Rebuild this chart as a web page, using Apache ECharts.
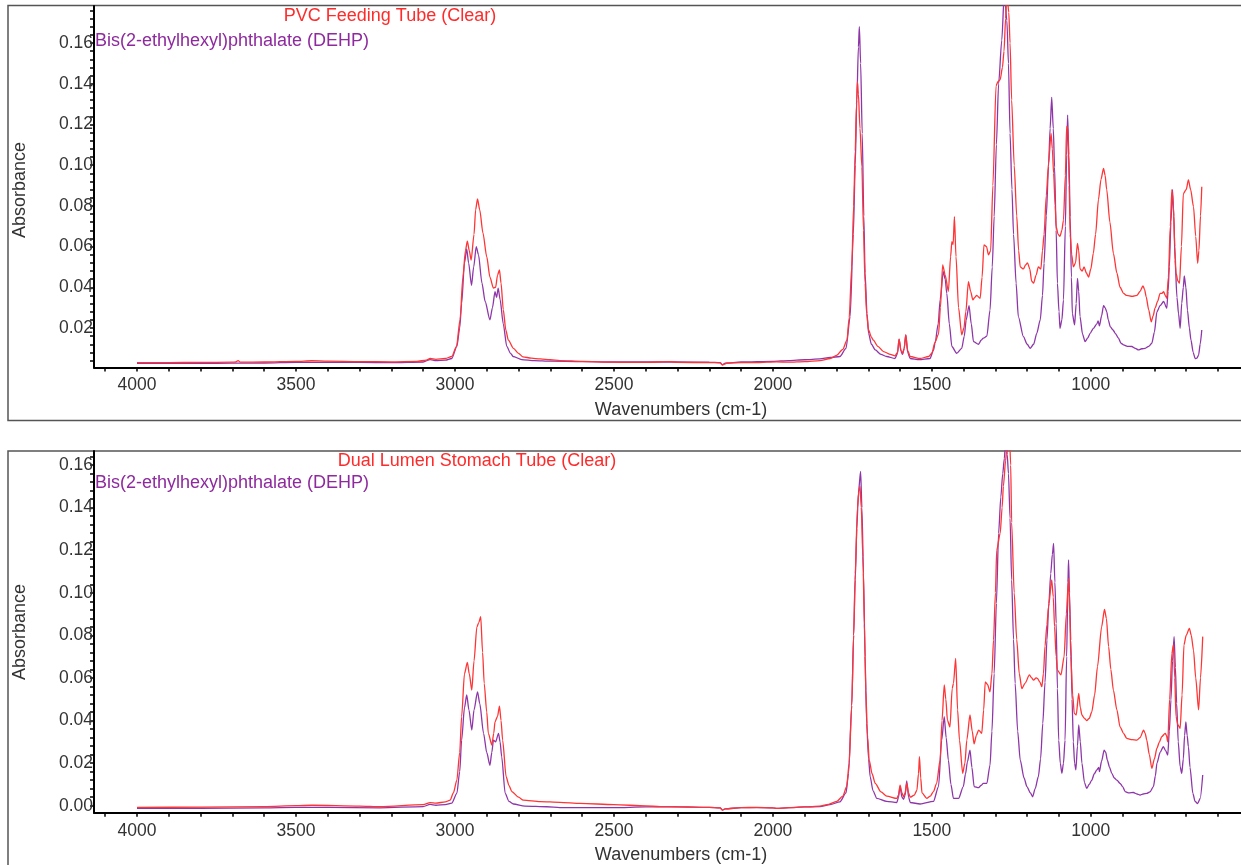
<!DOCTYPE html>
<html>
<head>
<meta charset="utf-8">
<script src="https://cdn.jsdelivr.net/npm/echarts@6/dist/echarts.min.js"></script>
<style>
html,body{margin:0;padding:0;background:#fff;}
#chart{width:1241px;height:865px;}
</style>
</head>
<body>
<div id="chart"></div>
<script>
// ---------------- DATA ----------------
const topSampleName = 'PVC Feeding Tube (Clear)';
const bottomSampleName = 'Dual Lumen Stomach Tube (Clear)';
const referenceName = 'Bis(2-ethylhexyl)phthalate (DEHP)';
const xAxisTitle = 'Wavenumbers (cm-1)';
const yAxisTitle = 'Absorbance';

const xLabelValues = [4000, 3500, 3000, 2500, 2000, 1500, 1000];
const yLabelValuesTop = [0.02, 0.04, 0.06, 0.08, 0.10, 0.12, 0.14, 0.16];
const yLabelValuesBottom = [0.00, 0.02, 0.04, 0.06, 0.08, 0.10, 0.12, 0.14, 0.16];

// [wavenumber, absorbance]
const pvcTube = [
[4000,0.0030],[3900,0.0030],[3800,0.0031],[3700,0.0032],[3690,0.0033],[3682,0.0040],[3675,0.0032],[3600,0.0033],[3500,0.0036],[3450,0.0039],[3400,0.0037],[3300,0.0035],[3200,0.0034],[3120,0.0036],[3090,0.0042],[3078,0.0050],[3060,0.0046],[3030,0.0050],[3010,0.0060],[2995,0.0110],[2984,0.0240],[2975,0.045],[2967,0.058],[2961,0.0627],[2955,0.058],[2949,0.0534],[2940,0.066],[2935,0.078],[2929,0.0834],[2922,0.078],[2912,0.0667],[2900,0.055],[2890,0.045],[2879,0.0396],[2872,0.040],[2866,0.046],[2860,0.0485],[2855,0.042],[2848,0.029],[2840,0.019],[2832,0.014],[2816,0.010],[2800,0.0075],[2786,0.0058],[2760,0.0052],[2732,0.0048],[2700,0.0044],[2670,0.0040],[2600,0.0036],[2500,0.0032],[2460,0.0031],[2400,0.0031],[2323,0.0035],[2300,0.0031],[2200,0.0030],[2166,0.0029],[2159,0.0018],[2150,0.0024],[2145,0.0028],[2100,0.0030],[2050,0.0030],[1988,0.0034],[1950,0.0032],[1900,0.0035],[1852,0.0040],[1820,0.0050],[1800,0.0065],[1780,0.0095],[1767,0.014],[1760,0.025],[1752,0.050],[1746,0.080],[1741,0.107],[1737,0.130],[1734,0.141],[1731,0.135],[1726,0.118],[1720,0.099],[1715,0.068],[1710,0.042],[1705,0.027],[1699,0.019],[1690,0.0155],[1684,0.014],[1670,0.011],[1652,0.0084],[1630,0.0070],[1616,0.0063],[1608,0.0080],[1603,0.0145],[1597,0.0090],[1592,0.0076],[1587,0.0100],[1582,0.0166],[1576,0.0090],[1568,0.0060],[1537,0.0050],[1510,0.0060],[1500,0.0076],[1490,0.0130],[1479,0.0170],[1473,0.030],[1466,0.051],[1458,0.046],[1448,0.038],[1441,0.055],[1437,0.0624],[1433,0.061],[1429,0.0747],[1424,0.055],[1416,0.030],[1406,0.0166],[1399,0.020],[1393,0.028],[1385,0.0428],[1378,0.038],[1371,0.0338],[1365,0.035],[1359,0.036],[1348,0.0346],[1342,0.045],[1336,0.0608],[1328,0.060],[1322,0.0559],[1315,0.058],[1308,0.090],[1298,0.139],[1292,0.141],[1285,0.142],[1278,0.148],[1273,0.156],[1268,0.172],[1264,0.185],[1258,0.175],[1254,0.160],[1249,0.132],[1241,0.100],[1233,0.075],[1227,0.058],[1222,0.050],[1212,0.049],[1205,0.051],[1199,0.052],[1192,0.049],[1186,0.043],[1180,0.042],[1172,0.046],[1165,0.050],[1157,0.049],[1152,0.058],[1147,0.066],[1140,0.085],[1133,0.1009],[1125,0.1156],[1121,0.108],[1117,0.096],[1112,0.080],[1109,0.0698],[1103,0.066],[1097,0.065],[1091,0.068],[1086,0.073],[1080,0.095],[1076,0.119],[1072,0.118],[1068,0.090],[1065,0.066],[1060,0.056],[1055,0.050],[1048,0.052],[1042,0.0616],[1038,0.058],[1034,0.049],[1027,0.048],[1021,0.050],[1014,0.047],[1007,0.045],[1000,0.049],[992,0.0567],[985,0.066],[976,0.083],[968,0.093],[960,0.0984],[955,0.095],[950,0.088],[940,0.072],[929,0.0567],[918,0.047],[908,0.040],[897,0.037],[887,0.036],[870,0.0355],[855,0.036],[845,0.038],[836,0.0407],[831,0.039],[826,0.0354],[818,0.029],[810,0.023],[804,0.026],[798,0.0297],[790,0.033],[782,0.037],[776,0.037],[771,0.0379],[766,0.036],[761,0.0346],[756,0.045],[750,0.070],[745,0.088],[740,0.0796],[736,0.060],[732,0.0469],[726,0.043],[721,0.042],[715,0.060],[709,0.086],[700,0.088],[693,0.0927],[686,0.088],[677,0.0796],[670,0.065],[664,0.0518],[660,0.058],[655,0.075],[651,0.0894]
];

const dehpTop = [
[4000,0.0026],[3800,0.0026],[3700,0.0027],[3600,0.0028],[3500,0.0031],[3400,0.0032],[3300,0.0031],[3200,0.0030],[3100,0.0033],[3078,0.0045],[3060,0.0040],[3030,0.0042],[3010,0.0050],[2994,0.0110],[2985,0.020],[2979,0.032],[2970,0.052],[2963,0.0588],[2957,0.052],[2948,0.041],[2941,0.050],[2933,0.060],[2926,0.056],[2915,0.042],[2905,0.033],[2890,0.024],[2882,0.030],[2874,0.0378],[2869,0.035],[2864,0.0396],[2858,0.034],[2848,0.022],[2837,0.011],[2825,0.0075],[2817,0.0060],[2790,0.0045],[2750,0.0040],[2700,0.0037],[2600,0.0035],[2500,0.0033],[2400,0.0033],[2300,0.0033],[2200,0.0032],[2166,0.0030],[2159,0.0020],[2150,0.0027],[2100,0.0033],[2000,0.0036],[1950,0.0040],[1900,0.0044],[1852,0.0048],[1820,0.0055],[1789,0.0060],[1770,0.010],[1757,0.0256],[1747,0.066],[1741,0.100],[1736,0.132],[1731,0.158],[1728,0.168],[1724,0.150],[1719,0.1156],[1714,0.075],[1710,0.047],[1704,0.027],[1699,0.0174],[1690,0.012],[1678,0.0092],[1660,0.0070],[1642,0.0060],[1616,0.0050],[1608,0.0075],[1603,0.0145],[1597,0.0085],[1592,0.0070],[1587,0.0100],[1582,0.0166],[1576,0.0080],[1568,0.0050],[1540,0.0045],[1506,0.0050],[1495,0.0090],[1490,0.0125],[1480,0.022],[1474,0.0338],[1464,0.0477],[1458,0.044],[1453,0.037],[1445,0.022],[1437,0.0109],[1422,0.0076],[1406,0.010],[1398,0.016],[1392,0.024],[1383,0.031],[1376,0.022],[1369,0.0133],[1353,0.012],[1345,0.014],[1338,0.015],[1327,0.016],[1317,0.0288],[1310,0.050],[1304,0.0747],[1297,0.110],[1290,0.140],[1280,0.1614],[1272,0.185],[1264,0.171],[1259,0.150],[1254,0.1156],[1248,0.088],[1243,0.066],[1235,0.042],[1228,0.0256],[1212,0.0158],[1200,0.0120],[1191,0.010],[1180,0.012],[1170,0.0174],[1159,0.024],[1152,0.036],[1147,0.0518],[1140,0.075],[1133,0.0993],[1128,0.118],[1123,0.1333],[1118,0.118],[1114,0.099],[1109,0.068],[1105,0.042],[1100,0.028],[1097,0.0198],[1091,0.024],[1086,0.0338],[1080,0.070],[1076,0.105],[1073,0.1246],[1069,0.105],[1065,0.0747],[1061,0.045],[1058,0.027],[1051,0.0215],[1046,0.032],[1042,0.0444],[1038,0.038],[1034,0.0256],[1026,0.017],[1018,0.0133],[1010,0.015],[1002,0.0174],[992,0.0198],[981,0.022],[977,0.0235],[973,0.021],[966,0.026],[960,0.031],[955,0.030],[950,0.028],[945,0.024],[939,0.0207],[930,0.019],[923,0.0174],[913,0.015],[905,0.0125],[897,0.0117],[885,0.011],[871,0.0109],[860,0.0100],[850,0.0092],[840,0.0098],[829,0.010],[818,0.0110],[808,0.0125],[800,0.018],[792,0.028],[782,0.031],[771,0.033],[761,0.0297],[757,0.038],[753,0.050],[748,0.072],[743,0.088],[739,0.075],[735,0.0534],[729,0.035],[724,0.027],[719,0.0198],[714,0.0322],[709,0.040],[706,0.0456],[701,0.040],[696,0.0288],[690,0.020],[685,0.0141],[678,0.008],[672,0.0050],[666,0.0052],[661,0.0067],[656,0.012],[651,0.019]
];

const dualLumenTube = [
[4000,-0.0008],[3800,-0.0007],[3600,-0.0004],[3500,0.0000],[3450,0.0002],[3300,-0.0002],[3235,-0.0005],[3100,0.0005],[3078,0.0014],[3060,0.0012],[3030,0.0018],[3015,0.0026],[3005,0.006],[2994,0.012],[2985,0.025],[2979,0.0418],[2970,0.062],[2961,0.0673],[2955,0.062],[2947,0.0543],[2940,0.068],[2931,0.084],[2925,0.086],[2919,0.0888],[2913,0.072],[2908,0.0575],[2900,0.044],[2895,0.034],[2884,0.0285],[2878,0.034],[2874,0.0394],[2866,0.042],[2860,0.0468],[2855,0.040],[2850,0.0308],[2839,0.0136],[2830,0.0095],[2821,0.0066],[2800,0.0040],[2785,0.0026],[2732,0.0019],[2670,0.0016],[2606,0.0011],[2500,0.0005],[2400,-0.0001],[2355,-0.0004],[2300,-0.0005],[2200,-0.0008],[2166,-0.0010],[2159,-0.0021],[2150,-0.0015],[2100,-0.0009],[2050,-0.0008],[2000,-0.0010],[1988,-0.0013],[1950,-0.0009],[1900,-0.0006],[1852,-0.0002],[1830,0.0005],[1799,0.0020],[1780,0.0045],[1768,0.0090],[1760,0.020],[1752,0.047],[1746,0.080],[1741,0.109],[1734,0.140],[1729,0.148],[1726,0.150],[1722,0.140],[1717,0.117],[1712,0.085],[1708,0.0543],[1702,0.032],[1697,0.0214],[1688,0.015],[1678,0.0105],[1660,0.0065],[1642,0.0045],[1610,0.0034],[1605,0.0050],[1600,0.0097],[1594,0.0060],[1589,0.0042],[1584,0.0060],[1579,0.0105],[1573,0.0060],[1568,0.0040],[1555,0.0050],[1547,0.0073],[1542,0.015],[1539,0.023],[1535,0.013],[1531,0.0060],[1516,0.0034],[1505,0.0045],[1495,0.0066],[1485,0.0105],[1474,0.0214],[1468,0.040],[1461,0.0567],[1456,0.050],[1451,0.0402],[1443,0.037],[1436,0.055],[1432,0.0575],[1425,0.0692],[1419,0.045],[1413,0.0308],[1403,0.0152],[1396,0.020],[1390,0.0308],[1380,0.0426],[1373,0.035],[1367,0.029],[1360,0.033],[1353,0.0355],[1343,0.034],[1337,0.045],[1332,0.0582],[1325,0.057],[1317,0.0535],[1311,0.062],[1306,0.0778],[1300,0.100],[1296,0.120],[1285,0.128],[1279,0.140],[1275,0.150],[1268,0.162],[1264,0.169],[1257,0.180],[1252,0.160],[1249,0.133],[1241,0.100],[1233,0.078],[1225,0.062],[1217,0.055],[1207,0.0575],[1193,0.0614],[1186,0.060],[1180,0.059],[1172,0.060],[1168,0.0598],[1160,0.058],[1154,0.0559],[1149,0.062],[1144,0.075],[1138,0.085],[1133,0.0935],[1123,0.106],[1118,0.098],[1114,0.084],[1109,0.070],[1105,0.0637],[1094,0.0614],[1084,0.070],[1077,0.090],[1070,0.1068],[1066,0.090],[1063,0.070],[1057,0.052],[1052,0.0434],[1046,0.0426],[1038,0.0528],[1033,0.046],[1028,0.0426],[1020,0.041],[1013,0.040],[1005,0.041],[997,0.044],[988,0.052],[979,0.0653],[966,0.084],[957,0.0922],[951,0.088],[944,0.0747],[937,0.064],[929,0.0543],[918,0.045],[908,0.037],[897,0.034],[887,0.0316],[870,0.031],[855,0.0308],[845,0.032],[834,0.0355],[829,0.034],[824,0.0308],[816,0.024],[808,0.0175],[800,0.022],[792,0.027],[784,0.030],[777,0.0324],[766,0.034],[762,0.033],[758,0.030],[752,0.050],[745,0.0716],[740,0.0755],[736,0.060],[732,0.0418],[726,0.038],[719,0.0363],[713,0.052],[707,0.0755],[700,0.080],[690,0.0833],[684,0.080],[677,0.0731],[670,0.060],[661,0.045],[655,0.060],[648,0.0794]
];

const dehpBottom = [
[4000,-0.0012],[3800,-0.0012],[3600,-0.0010],[3500,-0.0008],[3400,-0.0008],[3235,-0.0010],[3100,-0.0004],[3078,0.0006],[3060,0.0002],[3030,0.0005],[3010,0.0012],[2994,0.0058],[2985,0.016],[2979,0.0308],[2970,0.046],[2963,0.052],[2956,0.045],[2947,0.0355],[2940,0.045],[2929,0.0535],[2922,0.048],[2910,0.034],[2900,0.025],[2890,0.019],[2884,0.025],[2879,0.0308],[2872,0.030],[2863,0.034],[2858,0.030],[2853,0.023],[2842,0.0058],[2830,0.0020],[2816,0.0008],[2780,-0.0002],[2711,-0.0005],[2670,-0.0009],[2500,-0.0009],[2400,-0.0006],[2300,-0.0006],[2200,-0.0008],[2166,-0.0010],[2159,-0.0021],[2150,-0.0015],[2100,-0.0009],[2000,-0.0010],[1988,-0.0013],[1900,-0.0006],[1852,-0.0004],[1820,0.0005],[1789,0.0018],[1770,0.006],[1762,0.0152],[1752,0.047],[1746,0.080],[1741,0.106],[1736,0.130],[1731,0.147],[1724,0.157],[1720,0.140],[1715,0.109],[1710,0.070],[1705,0.0387],[1699,0.022],[1694,0.0136],[1685,0.007],[1673,0.0034],[1642,0.0020],[1610,0.0015],[1605,0.0040],[1600,0.0090],[1594,0.0040],[1589,0.0030],[1584,0.0050],[1579,0.0117],[1573,0.0040],[1568,0.0015],[1537,0.0008],[1495,0.0020],[1479,0.009],[1469,0.0308],[1461,0.0418],[1455,0.032],[1448,0.0214],[1440,0.010],[1432,0.0034],[1416,0.0034],[1401,0.009],[1394,0.015],[1388,0.0207],[1380,0.0261],[1374,0.018],[1367,0.009],[1353,0.0085],[1345,0.0095],[1338,0.0105],[1327,0.0105],[1317,0.0191],[1311,0.035],[1304,0.062],[1297,0.095],[1290,0.128],[1283,0.145],[1277,0.156],[1272,0.163],[1267,0.175],[1263,0.165],[1259,0.156],[1254,0.135],[1249,0.106],[1243,0.078],[1238,0.0575],[1230,0.035],[1222,0.0214],[1210,0.013],[1201,0.009],[1190,0.006],[1183,0.0042],[1175,0.0080],[1165,0.0136],[1158,0.022],[1151,0.0387],[1144,0.058],[1138,0.0778],[1132,0.095],[1126,0.109],[1121,0.118],[1117,0.1232],[1113,0.105],[1109,0.0857],[1105,0.055],[1101,0.0308],[1096,0.020],[1091,0.0152],[1086,0.020],[1081,0.0308],[1076,0.070],[1072,0.105],[1070,0.1154],[1067,0.100],[1063,0.0778],[1059,0.050],[1055,0.030],[1051,0.020],[1047,0.0168],[1042,0.028],[1038,0.0379],[1033,0.030],[1028,0.020],[1020,0.011],[1013,0.0081],[1005,0.010],[997,0.012],[989,0.015],[981,0.0168],[975,0.018],[973,0.016],[966,0.021],[958,0.0261],[953,0.025],[948,0.0214],[941,0.018],[934,0.0152],[926,0.013],[918,0.012],[908,0.0105],[900,0.009],[892,0.0066],[880,0.006],[866,0.0062],[855,0.0055],[845,0.0050],[835,0.0055],[824,0.0058],[814,0.0065],[803,0.009],[797,0.014],[792,0.020],[782,0.025],[772,0.0277],[765,0.026],[758,0.0238],[753,0.035],[748,0.0496],[743,0.068],[738,0.0794],[734,0.065],[730,0.048],[725,0.030],[719,0.0183],[714,0.0152],[709,0.022],[705,0.033],[701,0.0394],[697,0.033],[693,0.0277],[688,0.018],[679,0.0058],[672,0.002],[664,0.0010],[656,0.0034],[648,0.0144]
];

// ---------------- CHART ----------------
const RED = '#ff3535';
const PURPLE = '#8e36a8';
const FONT = 'Liberation Sans, Arial, sans-serif';

const xTicks = [];
for (let w = 4100; w >= 600; w -= 100) xTicks.push(w);
const yTicksTop = [];
for (let k = 1; k <= 44; k++) yTicksTop.push(+(k * 0.004).toFixed(3));
const yTicksBottom = [];
for (let k = 0; k <= 41; k++) yTicksBottom.push(+(k * 0.004).toFixed(3));

function makeX(gridIndex) {
  return {
    type: 'value', gridIndex: gridIndex, inverse: true,
    min: 527.6, max: 4135.3,
    splitLine: {show: false},
    axisLine: {show: true, onZero: false, lineStyle: {color: '#000', width: 2}},
    axisTick: {show: true, inside: false, length: 4, lineStyle: {color: '#000', width: 1.5}, customValues: xTicks},
    axisLabel: {customValues: xLabelValues, margin: 9, color: '#333', fontSize: 17.5, fontFamily: FONT,
      formatter: v => String(Math.round(v))}
  };
}
function makeY(gridIndex, min, max, labels, ticks) {
  return {
    type: 'value', gridIndex: gridIndex, min: min, max: max,
    splitLine: {show: false},
    axisLine: {show: true, onZero: false, lineStyle: {color: '#000', width: 2}},
    axisTick: {show: true, inside: false, length: 4, lineStyle: {color: '#000', width: 1.5}, customValues: ticks},
    axisLabel: {customValues: labels, margin: 1, color: '#333', fontSize: 17.5, fontFamily: FONT,
      formatter: v => v.toFixed(2)}
  };
}
function line(data, color, xi, yi, z) {
  return {
    type: 'line', xAxisIndex: xi, yAxisIndex: yi, data: data,
    showSymbol: false, symbol: 'none', smooth: 0.25, smoothMonotone: 'x',
    lineStyle: {color: color, width: 1.3}, z: z, clip: true, animation: false
  };
}

const chart = echarts.init(document.getElementById('chart'), null, {renderer: 'canvas'});
chart.setOption({
  backgroundColor: '#fff',
  animation: false,
  grid: [
    {left: 94, top: 6, width: 1147, height: 361.5},
    {left: 94, top: 451, width: 1147, height: 361.7}
  ],
  xAxis: [makeX(0), makeX(1)],
  yAxis: [
    makeY(0, 0.00059, 0.17817, yLabelValuesTop, yTicksTop),
    makeY(1, -0.00329, 0.1666, yLabelValuesBottom, yTicksBottom)
  ],
  series: [
    line(dehpTop, PURPLE, 0, 0, 2),
    line(pvcTube, RED, 0, 0, 3),
    line(dehpBottom, PURPLE, 1, 1, 2),
    line(dualLumenTube, RED, 1, 1, 3)
  ],
  graphic: [
    {type: 'rect', shape: {x: 8, y: 5.5, width: 1260, height: 415}, style: {fill: 'none', stroke: '#555', lineWidth: 1.5}, z: 0, silent: true},
    {type: 'rect', shape: {x: 8, y: 451, width: 1260, height: 440}, style: {fill: 'none', stroke: '#555', lineWidth: 1.5}, z: 0, silent: true},
    {type: 'text', x: 390, y: 16, style: {text: topSampleName, fill: '#ff2a2a', font: '18px ' + FONT, textAlign: 'center', textVerticalAlign: 'middle'}, z: 10},
    {type: 'text', x: 95, y: 41, style: {text: referenceName, fill: '#8e2a9e', font: '18px ' + FONT, textAlign: 'left', textVerticalAlign: 'middle'}, z: 10},
    {type: 'text', x: 477, y: 461.5, style: {text: bottomSampleName, fill: '#ff2a2a', font: '18px ' + FONT, textAlign: 'center', textVerticalAlign: 'middle'}, z: 10},
    {type: 'text', x: 95, y: 483.5, style: {text: referenceName, fill: '#8e2a9e', font: '18px ' + FONT, textAlign: 'left', textVerticalAlign: 'middle'}, z: 10},
    {type: 'text', x: 681, y: 410, style: {text: xAxisTitle, fill: '#333', font: '18px ' + FONT, textAlign: 'center', textVerticalAlign: 'middle'}, z: 10},
    {type: 'text', x: 681, y: 855, style: {text: xAxisTitle, fill: '#333', font: '18px ' + FONT, textAlign: 'center', textVerticalAlign: 'middle'}, z: 10},
    {type: 'text', x: 20, y: 190, rotation: Math.PI / 2, style: {text: yAxisTitle, fill: '#333', font: '18px ' + FONT, textAlign: 'center', textVerticalAlign: 'middle'}, z: 10},
    {type: 'text', x: 20, y: 632, rotation: Math.PI / 2, style: {text: yAxisTitle, fill: '#333', font: '18px ' + FONT, textAlign: 'center', textVerticalAlign: 'middle'}, z: 10}
  ]
});
</script>
</body>
</html>
